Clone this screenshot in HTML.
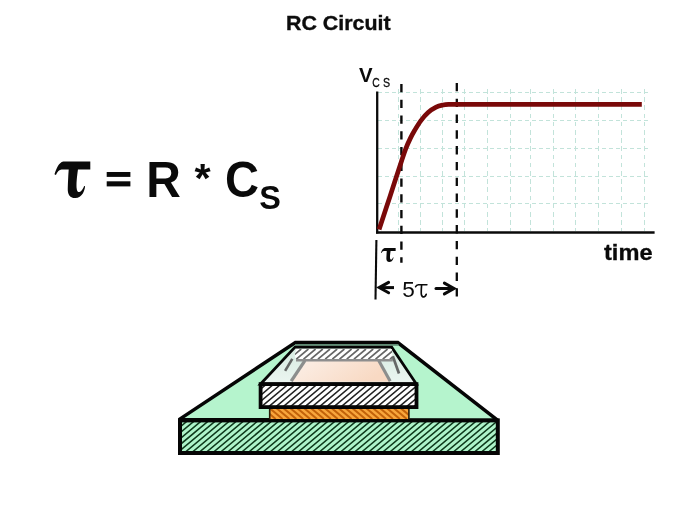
<!DOCTYPE html>
<html>
<head>
<meta charset="utf-8">
<title>RC Circuit</title>
<style>
  html, body { margin: 0; padding: 0; background: #ffffff; }
  body { width: 675px; height: 506px; overflow: hidden; font-family: "Liberation Sans", sans-serif; }
  svg { display: block; will-change: transform; }
  .sans { font-family: "Liberation Sans", sans-serif; }
  .serif { font-family: "Liberation Serif", serif; }
</style>
</head>
<body>
<svg width="675" height="506" viewBox="0 0 675 506">

  <rect width="675" height="506" fill="#ffffff"/>

  <!-- Title -->
  <text class="sans" x="286" y="30.2" font-size="19.8" font-weight="bold" fill="#0c0c0c" stroke="#0c0c0c" stroke-width="0.35" textLength="104.6" lengthAdjust="spacingAndGlyphs">RC Circuit</text>

  <!-- Formula -->
  <defs>
    <path id="tauBold" d="M155 97 L382 97 L382 165 L278 165 C270 220 262 290 268 330 C272 355 290 362 305 345 C318 330 325 318 330 303 L338 306 C335 340 315 405 255 405 C205 405 190 370 192 320 C194 270 196 215 200 165 L140 165 C120 165 105 185 92 210 L80 205 C95 160 115 105 155 97 Z"/>
  </defs>
  <g fill="#0a0a0a">
    <use href="#tauBold" transform="translate(45,150) scale(0.11858)"/>
    <rect x="106.7" y="172" width="23.7" height="4.9"/>
    <rect x="106.7" y="181.3" width="23.7" height="5.1"/>
    <text class="sans" x="146.2" y="197.4" font-size="49.5" font-weight="bold" textLength="34.6" lengthAdjust="spacingAndGlyphs">R</text>
    <text class="sans" x="194.6" y="192.2" font-size="41.5" font-weight="bold">*</text>
    <text class="sans" x="224.9" y="197.4" font-size="49.5" font-weight="bold" textLength="34" lengthAdjust="spacingAndGlyphs">C</text>
    <text class="sans" x="259.2" y="209.2" font-size="32.4" font-weight="bold">S</text>
  </g>

  <!-- Graph grid -->
  <g stroke="#c2e3da" stroke-width="1" fill="none" shape-rendering="crispEdges">
    <path d="M378 92.5H649 M378 120.5H649 M378 148.5H649 M378 176.5H649 M378 203.5H649" stroke-dasharray="3.6 3.4"/>
    <path d="M398.5 89V231 M420.5 89V231 M442.5 89V231 M464.5 89V231 M487.5 89V231 M510.5 89V231 M530.5 89V231 M553.5 89V231 M575.5 89V231 M598.5 89V231 M621.5 89V231 M644.5 89V231" stroke-dasharray="4.6 3.6"/>
  </g>

  <!-- Axes -->
  <path d="M377.2 91.5V233.5" stroke="#0a0a0a" stroke-width="2.3" fill="none"/>
  <path d="M376 232.5H654.6" stroke="#0a0a0a" stroke-width="2.6" fill="none"/>

  <!-- dashed markers -->
  <path d="M401.4 83.9V262.8" stroke="#0a0a0a" stroke-width="2.4" stroke-dasharray="8.4 7.35" fill="none"/>
  <path d="M456.8 82.9V296.5" stroke="#0a0a0a" stroke-width="2.3" stroke-dasharray="8.4 7.4" fill="none"/>

  <!-- curve -->
  <path d="M379.1 229.6 C380.92 224.07 386.28 207.77 390 196.4 C393.72 185.03 398.77 169.37 401.4 161.4 C404.03 153.43 404.33 152.40 405.8 148.6 C407.27 144.80 408.72 141.65 410.2 138.6 C411.68 135.55 412.92 133.30 414.7 130.3 C416.48 127.30 418.67 123.57 420.9 120.6 C423.13 117.63 425.57 114.75 428.1 112.5 C430.63 110.25 433.58 108.35 436.1 107.1 C438.62 105.85 441.05 105.45 443.2 105 C445.35 104.55 447.07 104.50 449 104.4 L641.8 104.3"
        stroke="#7a0909" stroke-width="4.7" fill="none" stroke-linecap="butt" stroke-linejoin="round"/>

  <!-- V_CS -->
  <text class="sans" x="358.9" y="81.8" font-size="21" font-weight="bold" fill="#0a0a0a" textLength="13.6" lengthAdjust="spacingAndGlyphs">V</text>
  <text class="sans" x="372.3" y="86.6" font-size="13.6" fill="#0a0a0a" stroke="#0a0a0a" stroke-width="0.3" textLength="7.5" lengthAdjust="spacingAndGlyphs">C</text>
  <text class="sans" x="383.1" y="86.6" font-size="13.6" fill="#0a0a0a" stroke="#0a0a0a" stroke-width="0.3" textLength="7.1" lengthAdjust="spacingAndGlyphs">S</text>

  <!-- time -->
  <text class="sans" x="604" y="259.9" font-size="21.8" font-weight="bold" fill="#0a0a0a" stroke="#0a0a0a" stroke-width="0.3" textLength="48.6" lengthAdjust="spacingAndGlyphs">time</text>

  <!-- tau label, slanted tick, arrows -->
  <path d="M376.4 240L375.5 299.5" stroke="#0a0a0a" stroke-width="2.1" fill="none"/>
  <use href="#tauBold" fill="#0a0a0a" transform="translate(377.0,243.55) scale(0.0488,0.0455)"/>

  <g stroke="#0a0a0a" stroke-width="3" fill="none" stroke-linecap="round" stroke-linejoin="miter">
    <path d="M380 287.6H394" stroke-linecap="butt"/>
    <path d="M388.6 282.4L379.2 287.6L388.6 292.8"/>
    <path d="M436 288.5H453"/>
    <path d="M444.4 283.1L454 288.5L444.4 293.9"/>
  </g>
  <text class="sans" x="402.3" y="297.4" font-size="22.6" fill="#0a0a0a">5</text>
  <g transform="translate(396,274) scale(0.059259)" stroke="#0a0a0a" fill="none" stroke-linecap="round" stroke-linejoin="round">
    <path d="M330 216 C338 193 352 180 378 180 L522 180" stroke-width="26"/>
    <path d="M432 182 C428 240 423 300 427 340 C431 378 455 394 478 384 C495 377 505 360 510 342" stroke-width="28"/>
  </g>

  <!-- Chip illustration -->
  <defs>
    <clipPath id="cSlab"><rect x="181" y="421.4" width="315.8" height="30.6"/></clipPath>
    <clipPath id="cFront"><rect x="261" y="385" width="155" height="21.4"/></clipPath>
    <clipPath id="cOrange"><rect x="270" y="408.2" width="138.6" height="10.8"/></clipPath>
    <clipPath id="cBack"><path d="M296.8 349 H391.8 L392.8 359.2 H296 C294.4 356.5 294.8 351.5 296.8 349 Z"/></clipPath>
    <linearGradient id="peach" x1="0" y1="0" x2="1" y2="0.3"><stop offset="0" stop-color="#fcf0e8"/><stop offset="1" stop-color="#f8d9c3"/></linearGradient>
    <linearGradient id="glass" x1="0" y1="0" x2="0" y2="1"><stop offset="0" stop-color="#d6eae0"/><stop offset="1" stop-color="#ecf6f1"/></linearGradient>
  </defs>
  <g stroke-linejoin="miter">
    <path d="M179 419.6 L295.4 342.5 H397.8 L497.8 420.4 Z" fill="#b5f4cd" stroke="#050505" stroke-width="3.5" stroke-miterlimit="2"/>
    <path d="M295 344.8H398.5" stroke="#5f8a73" stroke-width="1.8" fill="none"/>
    <rect x="180" y="420.4" width="317.8" height="32.6" fill="#aef4ca"/>
    <path clip-path="url(#cSlab)" d="M150.14 452.00L186.71 421.40M157.19 452.00L193.76 421.40M164.24 452.00L200.81 421.40M171.29 452.00L207.86 421.40M178.34 452.00L214.91 421.40M185.39 452.00L221.96 421.40M192.44 452.00L229.01 421.40M199.49 452.00L236.06 421.40M206.54 452.00L243.11 421.40M213.59 452.00L250.16 421.40M220.64 452.00L257.21 421.40M227.69 452.00L264.26 421.40M234.74 452.00L271.31 421.40M241.79 452.00L278.36 421.40M248.84 452.00L285.41 421.40M255.89 452.00L292.46 421.40M262.94 452.00L299.51 421.40M269.99 452.00L306.56 421.40M277.04 452.00L313.61 421.40M284.09 452.00L320.66 421.40M291.14 452.00L327.71 421.40M298.19 452.00L334.76 421.40M305.24 452.00L341.81 421.40M312.29 452.00L348.86 421.40M319.34 452.00L355.91 421.40M326.39 452.00L362.96 421.40M333.44 452.00L370.01 421.40M340.49 452.00L377.06 421.40M347.54 452.00L384.11 421.40M354.59 452.00L391.16 421.40M361.64 452.00L398.21 421.40M368.69 452.00L405.26 421.40M375.74 452.00L412.31 421.40M382.79 452.00L419.36 421.40M389.84 452.00L426.41 421.40M396.89 452.00L433.46 421.40M403.94 452.00L440.51 421.40M410.99 452.00L447.56 421.40M418.04 452.00L454.61 421.40M425.09 452.00L461.66 421.40M432.14 452.00L468.71 421.40M439.19 452.00L475.76 421.40M446.24 452.00L482.81 421.40M453.29 452.00L489.86 421.40M460.34 452.00L496.91 421.40M467.39 452.00L503.96 421.40M474.44 452.00L511.01 421.40M481.49 452.00L518.06 421.40M488.54 452.00L525.11 421.40M495.59 452.00L532.16 421.40" stroke="#0e3a1c" stroke-width="1.55" fill="none"/>
    <rect x="180" y="420.4" width="317.8" height="32.6" fill="none" stroke="#050505" stroke-width="4"/>
    <rect x="270" y="408.2" width="138.6" height="10.8" fill="#f8a63c"/>
    <path clip-path="url(#cOrange)" d="M275.64 419.00L262.79 408.20M282.54 419.00L269.69 408.20M289.44 419.00L276.59 408.20M296.34 419.00L283.49 408.20M303.24 419.00L290.39 408.20M310.14 419.00L297.29 408.20M317.04 419.00L304.19 408.20M323.94 419.00L311.09 408.20M330.84 419.00L317.99 408.20M337.74 419.00L324.89 408.20M344.64 419.00L331.79 408.20M351.54 419.00L338.69 408.20M358.44 419.00L345.59 408.20M365.34 419.00L352.49 408.20M372.24 419.00L359.39 408.20M379.14 419.00L366.29 408.20M386.04 419.00L373.19 408.20M392.94 419.00L380.09 408.20M399.84 419.00L386.99 408.20M406.74 419.00L393.89 408.20M413.64 419.00L400.79 408.20M420.54 419.00L407.69 408.20" stroke="#c2620a" stroke-width="2.0" fill="none"/>
    <path d="M269.7 408V419.4 M408.9 408V419.4" stroke="#2a1a08" stroke-width="1.6" fill="none"/>
    <path d="M260.6 384 L295 347.1 H391.7 L416.4 384 Z" fill="url(#glass)" stroke="#050505" stroke-width="2.8"/>
    <path d="M296.8 349 H391.8 L392.8 359.2 H296 C294.4 356.5 294.8 351.5 296.8 349 Z" fill="#ffffff"/>
    <path clip-path="url(#cBack)" d="M289.15 359.20L301.19 349.00M296.35 359.20L308.39 349.00M303.55 359.20L315.59 349.00M310.75 359.20L322.79 349.00M317.95 359.20L329.99 349.00M325.15 359.20L337.19 349.00M332.35 359.20L344.39 349.00M339.55 359.20L351.59 349.00M346.75 359.20L358.79 349.00M353.95 359.20L365.99 349.00M361.15 359.20L373.19 349.00M368.35 359.20L380.39 349.00M375.55 359.20L387.59 349.00M382.75 359.20L394.79 349.00M389.95 359.20L401.99 349.00" stroke="#666666" stroke-width="1.7" fill="none"/>
    <path d="M305 361 H378.5 L390 381.8 H291.5 Z" fill="url(#peach)"/>
    <path d="M296 360.2 H392.8" stroke="#8e8e8e" stroke-width="2.4" fill="none"/>
    <path d="M304.9 360.6 L291.2 381.2" stroke="#8c8e8d" stroke-width="3.3" fill="none"/>
    <path d="M378.7 360.6 L390.2 381.2" stroke="#8c8e8d" stroke-width="3.1" fill="none"/>
    <path d="M292.3 358.9 L285.1 370.9" stroke="#666867" stroke-width="2.6" fill="none"/>
    <path d="M392.8 356.2 L399 373.5" stroke="#666867" stroke-width="2.7" fill="none"/>
    <rect x="260.6" y="384.1" width="155.9" height="23" fill="#ffffff"/>
    <path clip-path="url(#cFront)" d="M240.09 406.40L265.53 385.00M247.34 406.40L272.78 385.00M254.59 406.40L280.03 385.00M261.84 406.40L287.28 385.00M269.09 406.40L294.53 385.00M276.34 406.40L301.78 385.00M283.59 406.40L309.03 385.00M290.84 406.40L316.28 385.00M298.09 406.40L323.53 385.00M305.34 406.40L330.78 385.00M312.59 406.40L338.03 385.00M319.84 406.40L345.28 385.00M327.09 406.40L352.53 385.00M334.34 406.40L359.78 385.00M341.59 406.40L367.03 385.00M348.84 406.40L374.28 385.00M356.09 406.40L381.53 385.00M363.34 406.40L388.78 385.00M370.59 406.40L396.03 385.00M377.84 406.40L403.28 385.00M385.09 406.40L410.53 385.00M392.34 406.40L417.78 385.00M399.59 406.40L425.03 385.00M406.84 406.40L432.28 385.00M414.09 406.40L439.53 385.00" stroke="#222222" stroke-width="1.55" fill="none"/>
    <rect x="260.6" y="384.1" width="155.9" height="23" fill="none" stroke="#050505" stroke-width="3.8"/>
  </g>
</svg>
</body>
</html>
